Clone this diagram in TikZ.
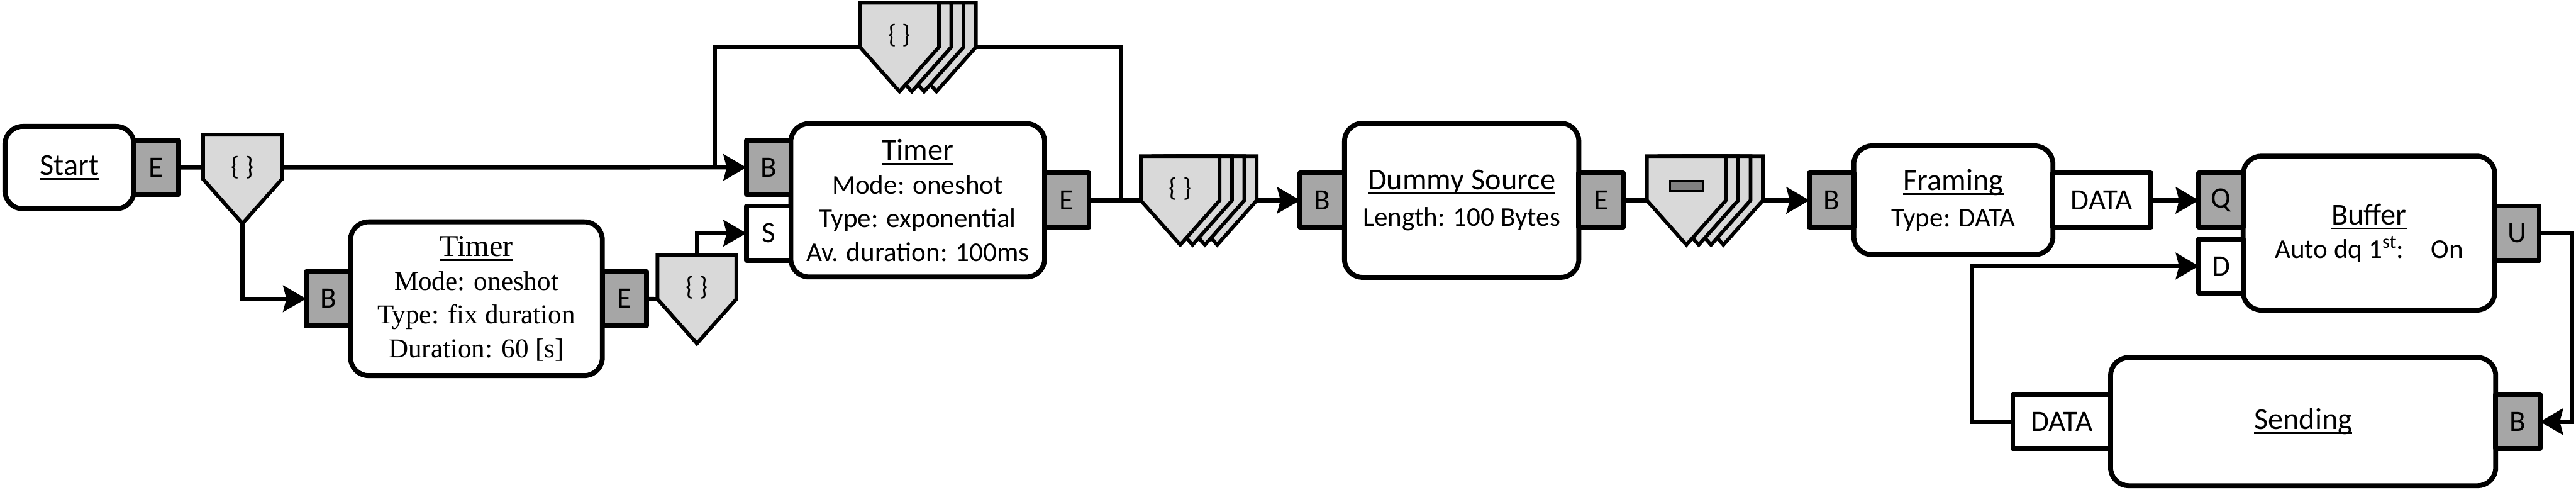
\documentclass[tikz,border=0pt]{standalone}
\usepackage{fontspec}
\setmainfont{Carlito}
\newfontfamily\tms{Liberation Serif}
\usetikzlibrary{positioning,arrows.meta,backgrounds}
\definecolor{portgray}{HTML}{A6A6A6}
\definecolor{splitgray}{HTML}{D9D9D9}
\definecolor{bargray}{HTML}{808080}
\newcommand\ttl[1]{{\fontsize{18.5}{21}\selectfont\setbox0\hbox{#1}\rlap{\rule[-2.8pt]{\wd0}{1.1pt}}#1}}
\tikzset{
  every node/.style={outer sep=0pt},
  blockbox/.style={draw,line width=3pt,rounded corners=11pt,fill=white,align=center,inner sep=0pt,font=\fontsize{16.5}{20.5}\selectfont},
  portbox/.style={draw,line width=3pt,line join=round,fill=portgray,minimum width=27pt,minimum height=33pt,inner sep=0pt,font=\fontsize{18}{20}\selectfont},
  wportbox/.style={portbox,fill=white},
  conn/.style={line width=2.5pt},
  arr/.style={conn,-{Stealth[length=14pt,width=16pt,inset=2pt]}},
  splitline/.style={draw,fill=splitgray,line width=2.2pt},
  pics/splitter/.style 2 args={code={
    \foreach \k in {#1}
      \path[splitline] (\k*7.5-24,0) -- (\k*7.5+24,0) -- (\k*7.5+24,-27) -- (\k*7.5,-54) -- (\k*7.5-24,-27) -- cycle;
    \path[splitline] (-24,0) -- (24,0) -- (24,-27) -- (0,-54) -- (-24,-27) -- cycle;
    \node[font=\fontsize{16}{16}\selectfont,inner sep=0pt] (-c) at (0,-20) {#2};
    \coordinate (-top) at (0,0);
    \coordinate (-in) at (-24,-27);
    \coordinate (-tip) at (0,-54);
  }}
}
\begin{document}
\begin{tikzpicture}[x=1pt,y=1pt]
\useasboundingbox (0,0) rectangle (1568,298);
\node[blockbox,minimum width=78.6pt,minimum height=50.2pt] (start) at (42.3,196) {\ttl{Start}};
\node[portbox,right=0pt of start] (startE) {E};
\node[blockbox,minimum width=153.3pt,minimum height=93.6pt,font=\tms\fontsize{16.5}{20.5}\selectfont] (t1) at (290,116.2) {\ttl{Timer}\\Mode: oneshot\\Type: fix duration\\Duration: 60 [s]};
\node[portbox,left=0pt of t1] (t1B) {B};
\node[portbox,right=0pt of t1] (t1E) {E};
\node[blockbox,minimum width=154.5pt,minimum height=93.3pt] (t2) at (558.6,176.1) {\ttl{Timer}\\Mode: oneshot\\Type: exponential\\Av. duration: 100ms};
\node[portbox,left=0pt of t2,yshift=20pt] (t2B) {B};
\node[wportbox,left=0pt of t2,yshift=-20pt] (t2S) {S};
\node[portbox,right=0pt of t2] (t2E) {E};
\node[blockbox,minimum width=142.6pt,minimum height=93.8pt] (dummy) at (889.7,176.1) {\ttl{Dummy Source}\\[2pt]Length: 100 Bytes};
\node[portbox,left=0pt of dummy] (dummyB) {B};
\node[portbox,right=0pt of dummy] (dummyE) {E};
\node[blockbox,minimum width=121.2pt,minimum height=66.2pt] (framing) at (1189,176.1) {\ttl{Framing}\\[2pt]Type: DATA};
\node[portbox,left=0pt of framing] (framingB) {B};
\node[wportbox,minimum width=59.5pt,right=0pt of framing] (framingD) {DATA};
\node[blockbox,minimum width=153.2pt,minimum height=93.7pt] (buffer) at (1442,156.1) {\ttl{Buffer}\\Auto dq 1\textsuperscript{st}:\quad On};
\node[portbox,left=0pt of buffer,yshift=20pt] (bufferQ) {Q};
\node[wportbox,left=0pt of buffer,yshift=-20pt] (bufferD) {D};
\node[portbox,right=0pt of buffer] (bufferU) {U};
\node[blockbox,minimum width=234.4pt,minimum height=78pt] (sending) at (1401.9,41.4) {\ttl{Sending}};
\node[wportbox,minimum width=59.5pt,left=0pt of sending] (sendingD) {DATA};
\node[portbox,right=0pt of sending] (sendingB) {B};
\pic (sp1) at (147.6,216) {splitter={0}{\{ \}}};
\pic (sp2) at (424.2,143) {splitter={0}{\{ \}}};
\pic (loop) at (547.5,296.3) {splitter={3,2,1}{\{ \}}};
\pic (ms1) at (718.4,203) {splitter={3,2,1}{\{ \}}};
\pic (ms2) at (1026.5,203) {splitter={3,2,1}{}};
\node[draw,line width=1.2pt,fill=bargray,minimum width=19.8pt,minimum height=6.2pt,inner sep=0pt] (bar) at ([yshift=2pt]ms2-c) {};
\coordinate (lp) at (682.5,176.1);
\coordinate (lj) at (435,196);
\begin{scope}[on background layer]
\draw[arr] (startE.east) -- (t2B.west);
\draw[arr] (sp1-tip) |- (t1B.west);
\draw[conn] (t1E.east) -- (sp2-in);
\draw[arr] (sp2-top) |- (t2S.west);
\draw[arr] (t2E.east) -- (dummyB.west);
\draw[conn] (lp) |- (loop-in) -| (lj);
\draw[arr] (dummyE.east) -- (framingB.west);
\draw[arr] (framingD.east) -- (bufferQ.west);
\draw[arr] (bufferU.east) -- ++(20,0) |- (sendingB.east);
\draw[arr] (sendingD.west) -- ++(-25,0) |- (bufferD.west);
\end{scope}
\end{tikzpicture}
\end{document}
